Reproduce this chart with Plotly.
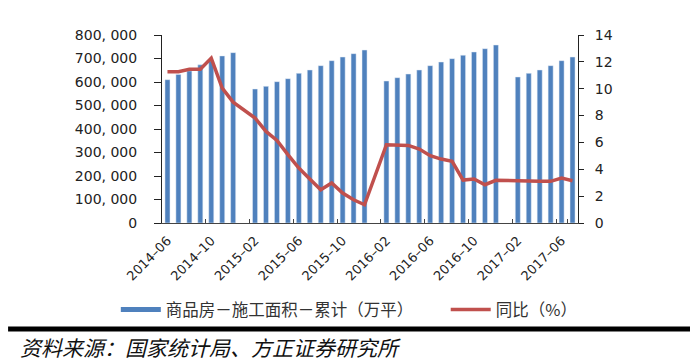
import plotly.graph_objects as go

months = (
    [f"2014-{m:02d}" for m in range(6, 13)]
    + [f"2015-{m:02d}" for m in range(1, 13)]
    + [f"2016-{m:02d}" for m in range(1, 13)]
    + [f"2017-{m:02d}" for m in range(1, 8)]
)

area = [
    609800, 632400, 647000, 673000, 690000, 711000, 725000,
    None, 570200, 581500, 601400, 614200, 636900, 651100, 669500, 690800, 706400, 720600, 736100,
    None, 604200, 618400, 634000, 651100, 669500, 685100, 699300, 714000, 727700, 741800, 757400,
    None, 621300, 636900, 651100, 669500, 690800, 706400,
]

yoy = [
    11.27, 11.27, 11.45, 11.45, 12.28, 10.05, 9.0,
    None, 7.82, 6.82, 6.15, 5.09, 4.09, 3.27, 2.48, 2.98, 2.23, 1.73, 1.36,
    None, 5.83, 5.81, 5.78, 5.51, 5.01, 4.76, 4.59, 3.2, 3.28, 2.85, 3.18,
    None, 3.15, 3.1, 3.1, 3.1, 3.35, 3.15,
]

left_ticks = [0, 100000, 200000, 300000, 400000, 500000, 600000, 700000, 800000]
left_ticktext = ["0", "100, 000", "200, 000", "300, 000", "400, 000", "500, 000",
                 "600, 000", "700, 000", "800, 000"]
right_ticks = [0, 2, 4, 6, 8, 10, 12, 14]
x_tickvals = months[::4]
x_ticktext = [m.replace("-", "–") for m in x_tickvals]

bar_name = "商品房－施工面积－累计（万平）"
line_name = "同比（%）"
BLUE = "#4F81BD"
RED = "#C0504D"

fig = go.Figure()
fig.add_trace(go.Bar(x=months, y=area, marker_color=BLUE, name=bar_name,
                     showlegend=False, legendgroup="a", yaxis="y"))
# legend proxy for the bar series (flat wide patch like the reference)
fig.add_trace(go.Scatter(x=[None], y=[None], mode="lines", name=bar_name,
                         line=dict(color=BLUE, width=5), legendgroup="a",
                         legend="legend", yaxis="y"))
fig.add_trace(go.Scatter(x=months, y=yoy, mode="lines", name=line_name,
                         line=dict(color=RED, width=3.5), connectgaps=True,
                         legend="legend2", yaxis="y2"))

fig.update_layout(
    width=690, height=361,
    margin=dict(l=162, r=112, t=35, b=138),
    paper_bgcolor="white", plot_bgcolor="white",
    bargap=0.54,
    font=dict(family="DejaVu Sans", size=14, color="#222"),
    xaxis=dict(
        type="category", categoryorder="array", categoryarray=months,
        tickmode="array", tickvals=x_tickvals, ticktext=x_ticktext,
        tickangle=-45, tickson="boundaries", ticks="inside", ticklen=4,
        tickcolor="#444", showline=True, linecolor="#444", linewidth=1,
        showgrid=False, tickfont=dict(size=13, color="#222"),
        range=[-0.5, len(months) - 0.5], automargin=False, ticklabelstandoff=4,
    ),
    yaxis=dict(
        range=[0, 800000], tickmode="array", tickvals=left_ticks, ticktext=left_ticktext,
        ticks="outside", ticklen=7, tickcolor="#222", showline=True, linecolor="#222",
        linewidth=1, showgrid=False, zeroline=False, ticklabelstandoff=14,
        tickfont=dict(size=14, color="#222"), automargin=False,
    ),
    yaxis2=dict(
        range=[0, 14], tickmode="array", tickvals=right_ticks, overlaying="y", side="right",
        ticks="outside", ticklen=5, tickcolor="#222", showline=True, linecolor="#222",
        linewidth=1, showgrid=False, zeroline=False, ticklabelstandoff=8,
        tickfont=dict(size=14, color="#222"), automargin=False,
    ),
    legend=dict(
        orientation="h", x=-0.111, y=-0.461, xanchor="left", yanchor="middle",
        font=dict(family="Noto Sans CJK SC", size=16.5, color="#333"),
        itemwidth=40, bgcolor="rgba(0,0,0,0)",
    ),
    legend2=dict(
        orientation="h", x=0.682, y=-0.461, xanchor="left", yanchor="middle",
        font=dict(family="Noto Sans CJK SC", size=16.5, color="#333"),
        itemwidth=40, bgcolor="rgba(0,0,0,0)",
    ),
    shapes=[dict(type="line", xref="paper", yref="paper", x0=-0.37, x1=1.27,
                 y0=-0.564, y1=-0.564, line=dict(color="black", width=5))],
    annotations=[dict(text="<i>资料来源：国家统计局、方正证券研究所</i>", xref="paper", yref="paper",
                      x=-0.345, y=-0.66, xanchor="left", yanchor="middle", showarrow=False,
                      font=dict(family="Noto Sans CJK SC", size=21, color="#111"))],
)

fig.write_html("out.html", config={"displayModeBar": False},
               post_script="document.body.style.margin='0';")
